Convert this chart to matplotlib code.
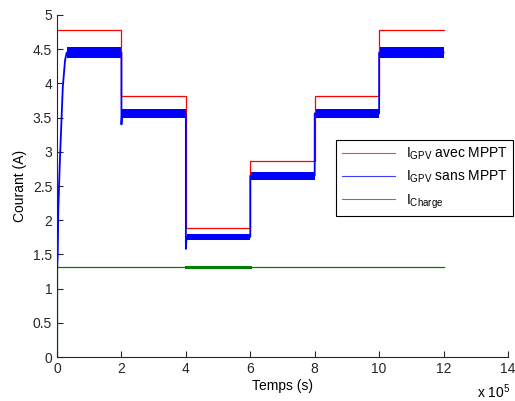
import numpy as np
import matplotlib
matplotlib.use('Agg')
from matplotlib import pyplot as plt

plt.rcParams['font.family'] = ['Liberation Sans', 'DejaVu Sans']
plt.rcParams['mathtext.default'] = 'regular'

# time in units of 1e5 s
t_steps = [0, 2, 4, 6, 8, 10, 12]
i_avec = [4.78, 3.81, 1.89, 2.86, 3.81, 4.78]       # I_GPV avec MPPT
i_sans = [4.45, 3.56, 1.755, 2.65, 3.56, 4.45]      # I_GPV sans MPPT (mean level)
i_sans_noise = [0.08, 0.065, 0.045, 0.055, 0.065, 0.08]  # half width of ripple
i_sans_edge = [None, 3.40, 1.58, 2.65, 3.56, 4.45]  # value just after each step
i_charge = 1.31

# start-up of the sans MPPT current
start_t = [0, 0, 0.005, 0.02, 0.04, 0.09, 0.18, 0.25, 0.3]
start_i = [0.9, 4.5, 1.3, 1.5, 2.15, 2.88, 3.95, 4.34, 4.45]

fig = plt.figure(figsize=(5.15, 4.01), dpi=100)
ax = fig.add_axes([0.1107, 0.1097, 0.8757, 0.8529])

# red step
ax.step(t_steps, i_avec + [i_avec[-1]], where='post', color='red', lw=0.9,
        label=r'I$_{GPV}$ avec MPPT')

# blue: start-up then levels with ripple band
bx = list(start_t)
by = list(start_i)
for k in range(len(i_sans)):
    t0, t1 = t_steps[k], t_steps[k + 1]
    if k > 0:
        bx += [t0, t0, t0 + 0.02]
        by += [i_sans[k - 1], i_sans_edge[k], i_sans[k]]
    bx.append(t1)
    by.append(i_sans[k])
    a = 0.3 if k == 0 else t0 + 0.02
    ax.fill_between([a, t1], i_sans[k] - i_sans_noise[k], i_sans[k] + i_sans_noise[k],
                    color='blue', lw=0)
ax.plot(bx, by, color='blue', lw=1.3, label=r'I$_{GPV}$ sans MPPT')

# green
ax.plot([0, 0, 12], [0, i_charge, i_charge], color='green', lw=0.9,
        label=r'I$_{Charge}$')
ax.plot([4, 6], [i_charge, i_charge], color='green', lw=2.2)

ax.set_xlim(0, 14)
ax.set_ylim(0, 5)
ax.set_xticks(range(0, 15, 2))
ax.set_yticks(np.arange(0, 5.01, 0.5))
ax.set_yticklabels(['0', '0.5', '1', '1.5', '2', '2.5', '3', '3.5', '4', '4.5', '5'])
ax.tick_params(direction='in', length=4, labelsize=10, colors='#262626')
for s in ['top', 'right']:
    ax.spines[s].set_visible(False)
for s in ['left', 'bottom']:
    ax.spines[s].set_color('#262626')
ax.set_xlabel('Temps (s)', fontsize=10, labelpad=2)
ax.set_ylabel('Courant (A)', fontsize=10, labelpad=4)
fig.text(0.927, 0.0, r'x 10$^5$', fontsize=10, va='bottom', ha='left')

leg = ax.legend(loc='upper left', bbox_to_anchor=(0.619, 0.6345), borderaxespad=0,
                fancybox=False, framealpha=1, edgecolor='black', fontsize=10,
                handlelength=3.8, labelspacing=0.5)
leg.get_frame().set_linewidth(0.8)
for h in leg.get_lines():
    h.set_linewidth(0.8)
    h.set_alpha(0.75)

fig.savefig('out.png', dpi=100)
